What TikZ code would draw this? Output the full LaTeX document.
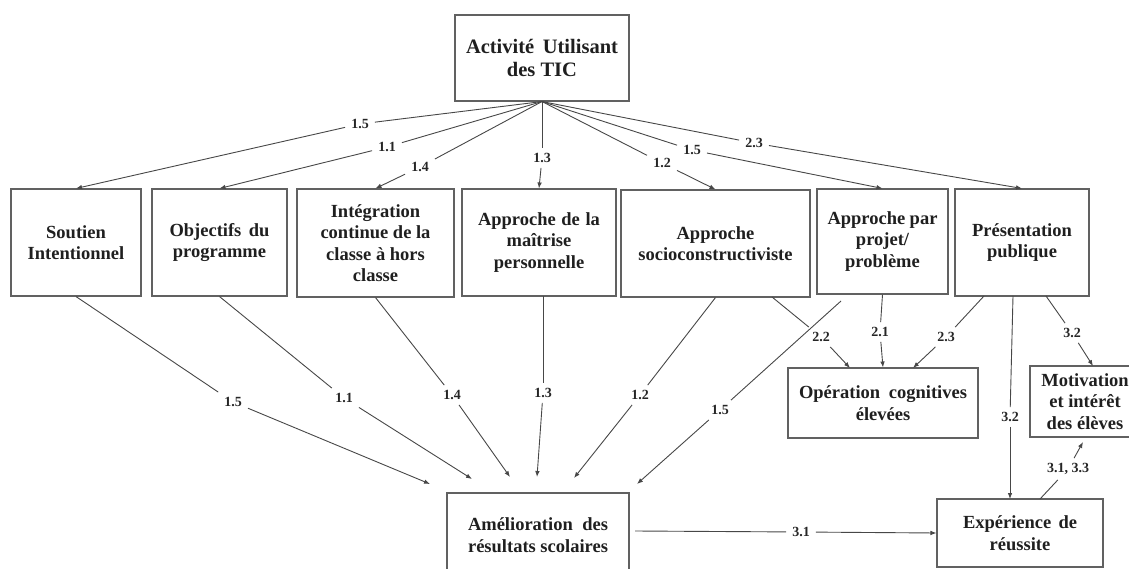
\documentclass[tikz,border=0pt]{standalone}
\usepackage{fontspec}
\setmainfont{Liberation Serif}
\usetikzlibrary{arrows.meta,calc}
\begin{document}
\begin{tikzpicture}[x=1pt,y=-1pt,
  box/.style={draw=black!62, line width=1.1pt, inner sep=0pt, align=center,
    font=\fontsize{18.5}{21.5}\selectfont\bfseries, text=black!88},
  lab/.style={inner xsep=6pt, inner ysep=5pt, font=\fontsize{14}{16}\selectfont\bfseries, text=black!85},
  ln/.style={draw=black!72, line width=0.9pt},
  arr/.style={ln, -{Latex[length=6pt,width=4.6pt]}}]
\useasboundingbox (0,0) rectangle (1129,569);

% ---------- boxes ----------
\node[box, minimum width=174, minimum height=86, font=\fontsize{20.5}{23.5}\selectfont\bfseries] (top) at (542,58)
  {\makebox[152pt][s]{Activité Utilisant}\\des TIC};

\node[box, minimum width=130, minimum height=107] (soutien) at (76,242.5) {Soutien\\Intentionnel};
\node[box, minimum width=135, minimum height=107] (objectifs) at (219.5,242.5) {\makebox[100pt][s]{Objectifs du}\\programme};
\node[box, minimum width=157, minimum height=108] (integration) at (375.5,243) {Intégration\\continue de la\\classe à hors\\classe};
\node[box, minimum width=154, minimum height=107] (maitrise) at (539,242.5) {\makebox[122pt][s]{Approche de la}\\maîtrise\\personnelle};
\node[box, minimum width=189, minimum height=107] (socio) at (715.5,243.5) {Approche\\socioconstructiviste};
\node[box, minimum width=131, minimum height=105] (projet) at (882.5,241.5) {\makebox[110pt][s]{Approche par}\\projet/\\problème};
\node[box, minimum width=134, minimum height=107] (presentation) at (1022,242.5) {Présentation\\publique};

\node[box, minimum width=190, minimum height=70] (operation) at (883,403) {\makebox[168pt][s]{Opération cognitives}\\élevées};
\node[box, minimum width=110, minimum height=71] (motivation) at (1085,401.5) {Motivation\\et intérêt\\des élèves};
\node[box, minimum width=166, minimum height=68] (experience) at (1020,533) {\makebox[114pt][s]{Expérience de}\\réussite};
\node[box, minimum width=182, minimum height=84] (amelioration) at (538,535) {\makebox[140pt][s]{Amélioration des}\\résultats scolaires};

% ---------- labels ----------
\node[lab] (t1) at (360,124) {1.5};
\node[lab] (t2) at (387,147) {1.1};
\node[lab] (t3) at (420,167) {1.4};
\node[lab] (t4) at (542,158) {1.3};
\node[lab] (t5) at (662,163) {1.2};
\node[lab] (t6) at (692,150) {1.5};
\node[lab] (t7) at (754,143) {2.3};

\node[lab] (b1) at (233,402) {1.5};
\node[lab] (b2) at (344,398) {1.1};
\node[lab] (b3) at (452,395) {1.4};
\node[lab] (b4) at (543,393) {1.3};
\node[lab] (b5) at (640,395) {1.2};
\node[lab] (b6) at (720,410) {1.5};

\node[lab] (c1) at (821,337) {2.2};
\node[lab] (c2) at (880,332) {2.1};
\node[lab] (c3) at (946,337) {2.3};
\node[lab] (c4) at (1072,333) {3.2};
\node[lab] (c5) at (1010,417) {3.2};
\node[lab] (c6) at (1068,469) {3.1, 3.3};
\node[lab] (c7) at (801,532) {3.1};

% ---------- free ends ----------
\coordinate (a1) at (430,484);
\coordinate (a2) at (472,479);
\coordinate (a3) at (510,477);
\coordinate (a4) at (537,477);
\coordinate (a5) at (574,478);
\coordinate (a6) at (637,484);
\coordinate (o1) at (850,368);
\coordinate (o3) at (913,368);
\coordinate (m1) at (1093,366);
\coordinate (m2) at (1083,442);
\coordinate (e1) at (1010,499);
\coordinate (s6) at (841,301);
\coordinate (s22) at (772,297);
\coordinate (p23) at (984,296);
\coordinate (p32a) at (1046,296);
\coordinate (p32b) at (1013,296);
\coordinate (x33) at (1040,499);
\coordinate (am31) at (635,531);
\coordinate (ms) at (543,296);

% ---------- top fan ----------
\draw[ln] (top.south) -- (t1);  \draw[arr] (t1) -- (soutien.north);
\draw[ln] (top.south) -- (t2);  \draw[arr] (t2) -- (objectifs.north);
\draw[ln] (top.south) -- (t3);  \draw[arr] (t3) -- (integration.north);
\draw[ln] (top.south) -- (t4);  \draw[arr] (t4) -- (maitrise.north);
\draw[ln] (top.south) -- (t5);  \draw[arr] (t5) -- (socio.north);
\draw[ln] (top.south) -- (t6);  \draw[arr] (t6) -- (projet.north);
\draw[ln] (top.south) -- (t7);  \draw[arr] (t7) -- (presentation.north);

% ---------- to Amélioration ----------
\draw[ln] (soutien.south) -- (b1);     \draw[arr] (b1) -- (a1);
\draw[ln] (objectifs.south) -- (b2);   \draw[arr] (b2) -- (a2);
\draw[ln] (integration.south) -- (b3); \draw[arr] (b3) -- (a3);
\draw[ln] (ms) -- (b4);                \draw[arr] (b4) -- (a4);
\draw[ln] (socio.south) -- (b5);       \draw[arr] (b5) -- (a5);
\draw[ln] (s6) -- (b6);                \draw[arr] (b6) -- (a6);

% ---------- to Opération ----------
\draw[ln] (s22) -- (c1);           \draw[arr] (c1) -- (o1);
\draw[ln] (projet.south) -- (c2);  \draw[arr] (c2) -- (operation.north);
\draw[ln] (p23) -- (c3);           \draw[arr] (c3) -- (o3);

% ---------- Présentation ----------
\draw[ln] (p32a) -- (c4);  \draw[arr] (c4) -- (m1);
\draw[ln] (p32b) -- (c5);  \draw[arr] (c5) -- (e1);

% ---------- Expérience / Motivation ----------
\draw[ln] (x33) -- (c6);   \draw[arr] (c6) -- (m2);
\draw[ln] (am31) -- (c7);  \draw[arr] (c7) -- (experience.west);
\end{tikzpicture}
\end{document}
